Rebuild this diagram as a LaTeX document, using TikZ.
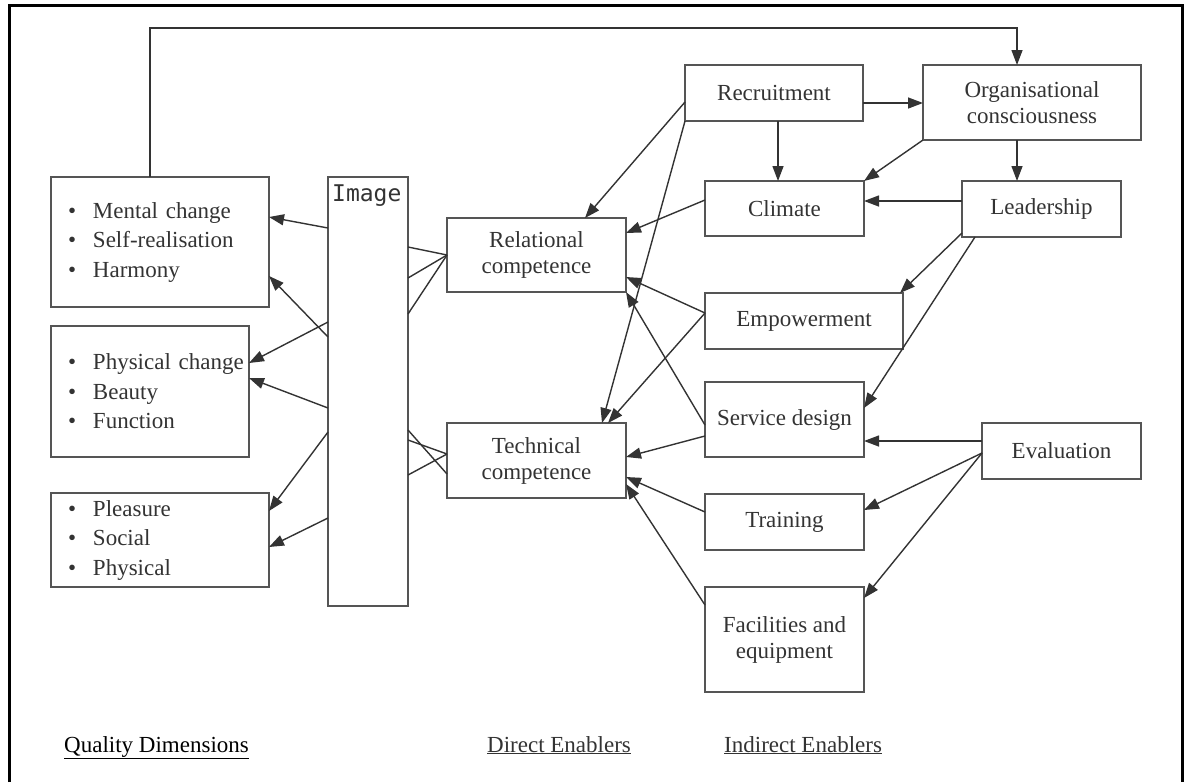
\documentclass[tikz,border=0pt]{standalone}
\usepackage{fontspec}
\setmainfont{Liberation Serif}
\setmonofont{DejaVu Sans Mono}
\usetikzlibrary{arrows.meta}
\definecolor{ink}{HTML}{333333}
\definecolor{frameline}{HTML}{555555}
\newcommand{\qbullet}{\hspace*{17pt}\makebox[25pt][l]{•}}
\begin{document}
\begin{tikzpicture}[x=1pt,y=-1pt,
  box/.style={draw=frameline, line width=1.4pt, rectangle, outer sep=0pt,
    inner sep=0pt, text=ink, align=center, font=\fontsize{23}{26}\selectfont},
  listbox/.style={box, align=left, font=\fontsize{23}{29.5}\selectfont},
  link/.style={draw=ink, line width=1.4pt},
  arr/.style={link, -{Triangle[length=15pt,width=11pt]}},
  caption/.style={anchor=base west, inner sep=0pt, font=\fontsize{23}{26}\selectfont}
]
\useasboundingbox (0,0) rectangle (1190,782);

% outer frame (open at the bottom)
\draw[line width=3pt, black] (9,782) -- (9,5.5) -- (1182,5.5) -- (1182,782);

% quality dimensions
\node[listbox, minimum width=218pt, minimum height=130pt, text width=218pt] (qa) at (160,242)
  {\qbullet Mental change\\\qbullet Self-realisation\\\qbullet Harmony};
\node[listbox, minimum width=198pt, minimum height=131pt, text width=198pt] (qb) at (150,391.5)
  {\qbullet Physical change\\\qbullet Beauty\\\qbullet Function};
\node[listbox, minimum width=218pt, minimum height=94pt, text width=218pt] (qc) at (160,540)
  {\qbullet Pleasure\\\qbullet Social\\\qbullet Physical};

% image column
\node[box, minimum width=80pt, minimum height=429pt] (img) at (368,391.5) {};
\node[anchor=base west, inner sep=0pt, text=ink, font=\ttfamily\fontsize{23}{26}\selectfont]
  (imgtext) at ([xshift=4pt,yshift=-24pt]img.north west) {Image};

% direct enablers
\node[box, minimum width=179pt, minimum height=74pt] (rel) at (536.5,255) {Relational\\competence};
\node[box, minimum width=179pt, minimum height=75pt] (tech) at (536.5,460.5) {Technical\\competence};

% indirect enablers
\node[box, minimum width=178pt, minimum height=56pt] (rec) at (774,93) {Recruitment};
\node[box, minimum width=218pt, minimum height=75pt] (org) at (1032,102.5) {Organisational\\consciousness};
\node[box, minimum width=159pt, minimum height=55pt] (clim) at (784.5,208.5) {Climate};
\node[box, minimum width=159pt, minimum height=56pt] (lead) at (1041.5,209) {Leadership};
\node[box, minimum width=198pt, minimum height=56pt] (emp) at (804,321) {Empowerment};
\node[box, minimum width=159pt, minimum height=75pt] (sd) at (784.5,419.5) {Service design};
\node[box, minimum width=159pt, minimum height=56pt] (eval) at (1061.5,451) {Evaluation};
\node[box, minimum width=159pt, minimum height=56pt] (train) at (784.5,522) {Training};
\node[box, minimum width=159pt, minimum height=105pt] (fac) at (784.5,639.5) {Facilities and\\equipment};

% image -> quality dimensions
\draw[arr] ([yshift=-51pt]img.north west)  -- ([yshift=-40pt]qa.north east);
\draw[arr] ([yshift=-160pt]img.north west) -- ([yshift=-99pt]qa.north east);
\draw[arr] ([yshift=-145pt]img.north west) -- ([yshift=-37pt]qb.north east);
\draw[arr] ([yshift=-231pt]img.north west) -- ([yshift=-52pt]qb.north east);
\draw[arr] ([yshift=-255pt]img.north west) -- ([yshift=-18pt]qc.north east);
\draw[arr] ([yshift=-341pt]img.north west) -- ([yshift=-54pt]qc.north east);

% image <-> direct enablers
\draw[link] ([yshift=-70pt]img.north east)  -- (rel.west);
\draw[link] ([yshift=-101pt]img.north east) -- (rel.west);
\draw[link] ([yshift=-137pt]img.north east) -- (rel.west);
\draw[link] ([yshift=-253pt]img.north east) -- ([yshift=-51pt]tech.north west);
\draw[link] ([yshift=-263pt]img.north east) -- ([yshift=-31pt]tech.north west);
\draw[link] ([yshift=-298pt]img.north east) -- ([yshift=-31pt]tech.north west);

% indirect -> direct enablers
\draw[arr] ([yshift=-37pt]rec.north west) -- ([xshift=138pt]rel.north west);
\draw[arr] (rec.south west) -- ([xshift=155pt]tech.north west);
\draw[arr] ([yshift=-19pt]clim.north west) -- ([yshift=-15pt]rel.north east);
\draw[arr] ([yshift=-20pt]emp.north west) -- ([yshift=-59pt]rel.north east);
\draw[arr] ([yshift=-20pt]emp.north west) -- ([xshift=161pt]tech.north west);
\draw[arr] ([yshift=-43pt]sd.north west) -- (rel.south east);
\draw[arr] ([yshift=-54pt]sd.north west) -- ([yshift=-34pt]tech.north east);
\draw[arr] ([yshift=-18pt]train.north west) -- ([yshift=-54pt]tech.north east);
\draw[arr] ([yshift=-18pt]fac.north west) -- ([yshift=-61pt]tech.north east);

% among indirect enablers
\draw[arr] ([yshift=-38pt]rec.north east) -- ([yshift=-38pt]org.north west);
\draw[arr] ([xshift=93pt]rec.south west) -- ([xshift=73pt]clim.north west);
\draw[arr] (org.south west) -- (clim.north east);
\draw[arr] ([xshift=94pt]org.south west) -- ([xshift=55pt]lead.north west);
\draw[arr] ([yshift=-20pt]lead.north west) -- ([yshift=-20pt]clim.north east);
\draw[arr] ([yshift=-52pt]lead.north west) -- ([xshift=-3pt]emp.north east);
\draw[arr] ([xshift=13pt]lead.south west) -- ([yshift=-26pt]sd.north east);
\draw[arr] ([yshift=-18pt]eval.north west) -- ([yshift=-59pt]sd.north east);
\draw[arr] ([yshift=-30pt]eval.north west) -- ([yshift=-16pt]train.north east);
\draw[arr] ([yshift=-30pt]eval.north west) -- ([yshift=-11pt]fac.north east);

% feedback from the first quality dimension to organisational consciousness
\draw[arr] ([xshift=99pt]qa.north west) -- ++(0,-149) -| ([xshift=94pt]org.north west);

% column captions
\node[caption, text=black] (capq) at (64,752) {\underline{Quality Dimensions}};
\node[caption, text=ink] (capd) at (487,752) {\underline{Direct Enablers}};
\node[caption, text=ink] (capi) at (724,752) {\underline{Indirect Enablers}};
\end{tikzpicture}
\end{document}
